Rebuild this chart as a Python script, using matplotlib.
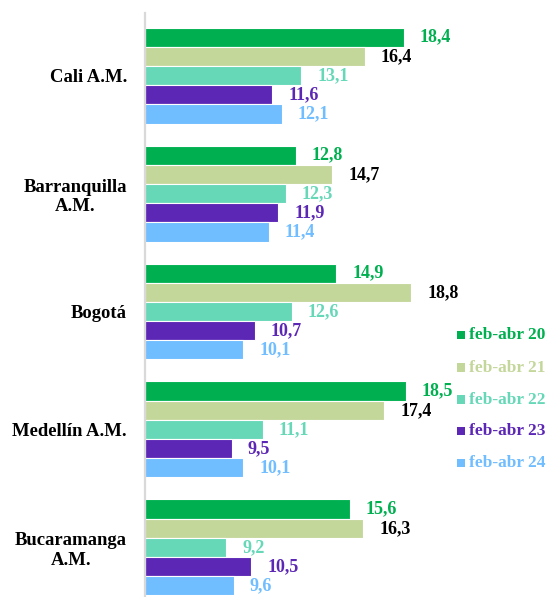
import matplotlib
matplotlib.use("Agg")
import matplotlib.pyplot as plt
import numpy as np

cities = ["Cali A.M.", "Barranquilla\nA.M.", "Bogotá", "Medellín A.M.", "Bucaramanga\nA.M."]
series = ["feb-abr 20", "feb-abr 21", "feb-abr 22", "feb-abr 23", "feb-abr 24"]
v20 = [18.4, 12.8, 14.9, 18.5, 15.6]
v21 = [16.4, 14.7, 18.8, 17.4, 16.3]
v22 = [13.1, 12.3, 12.6, 11.1, 9.2]
v23 = [11.6, 11.9, 10.7, 9.5, 10.5]
v24 = [12.1, 11.4, 10.1, 10.1, 9.6]
values = [v20, v21, v22, v23, v24]

colors = ["#00B050", "#C4D79B", "#66D8B8", "#5C27B5", "#70BDFF"]
label_colors = ["#00B050", "#000000", "#66D8B8", "#5C27B5", "#70BDFF"]

plt.rcParams['font.family'] = ['Liberation Serif', 'DejaVu Serif']

W, H = 547, 597
fig = plt.figure(figsize=(W / 100, H / 100), dpi=100)
top_px = 13.4
ax = fig.add_axes([145 / W, 0, (W - 145) / W, (H - top_px) / H])

xmin = 5
scale = 19.3
ax.set_xlim(xmin, xmin + (W - 145) / scale)
ax.set_ylim(4.42, -0.527)

centers = np.arange(len(cities))
bh = 0.1627
for i, vals in enumerate(values):
    y = centers + (i - 2) * bh
    left = [xmin] * len(vals)
    widths = [v - xmin for v in vals]
    ax.barh(y, widths, left=left, height=bh, color=colors[i], edgecolor="white", linewidth=0.8)
    for yy, v in zip(y, vals):
        ax.annotate(f"{v:.1f}".replace(".", ","), xy=(v, yy), xytext=(11.5, 0),
                    textcoords="offset points", va="center", ha="left",
                    fontsize=13, fontweight="bold", color=label_colors[i])

ax.set_yticks(centers)
ax.set_yticklabels(cities, fontsize=13.4, fontweight="bold", multialignment="center")
ax.tick_params(axis="y", length=0, pad=13)
ax.xaxis.set_visible(False)
for s in ["top", "right", "bottom"]:
    ax.spines[s].set_visible(False)
ax.spines["left"].set_color("#D9D9D9")
ax.spines["left"].set_linewidth(1.6)

# legend
from matplotlib.patches import Rectangle
ys = [335, 367.5, 399.5, 431, 463]
for i, name in enumerate(series):
    yc = ys[i]
    fig.patches.append(Rectangle((457 / W, 1 - (yc + 4.2) / H), 8.4 / W, 8.4 / H,
                                 transform=fig.transFigure, facecolor=colors[i], edgecolor="none"))
    fig.text(469 / W, 1 - yc / H, name, color=colors[i], fontsize=12.5, fontweight="bold",
             va="center", ha="left")

fig.savefig("out.png", dpi=100)
